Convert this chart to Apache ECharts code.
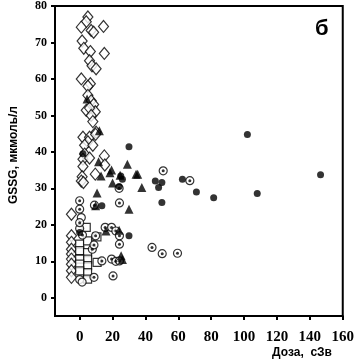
<!DOCTYPE html>
<html>
<head>
<meta charset="utf-8">
<script src="https://cdn.jsdelivr.net/npm/echarts@6/dist/echarts.min.js"></script>
<style>
  html, body { margin: 0; padding: 0; background: #fff; }
  #chart { width: 357px; height: 363px; }
</style>
</head>
<body>
<div id="chart"></div>
<script>
// тики осей
var xTicks = [0, 20, 40, 60, 80, 100, 120, 140, 160]
var yTicks = [0, 10, 20, 30, 40, 50, 60, 70, 80]

// открытые ромбы
var diamonds = [
  [5, 77], [4, 75.7], [1, 74.2], [7, 73.3], [8.5, 72.8], [14.5, 74.4],
  [1.5, 70.4], [2.5, 68.4], [6.5, 67.5], [15, 67], [6, 65], [7.5, 63.6], [10, 62.8],
  [1, 60], [6.5, 58.7], [5, 58], [5, 55.5], [7, 54], [8.5, 53], [4, 51.4], [9.5, 51],
  [6, 52], [7, 50], [8, 48.3], [10, 45.4], [2, 44], [6, 44], [9.7, 44.8], [5, 42.8],
  [3, 41.8], [8, 41.8], [3, 39.4], [15, 38.9], [2, 38], [6, 38.3], [15.3, 36.4],
  [2, 36], [9.5, 33.9], [1.5, 33.2], [1, 32], [2.3, 31.6],
  [-5, 22.9], [-5, 17], [-5, 15.2], [-5, 13.3], [-5, 12], [-5, 10.6], [-5, 9.2],
  [-5, 7.4], [-5, 5.6]
]

// залитые кружки
var dots = [
  [30, 41.4], [2, 39.5], [102, 44.8], [146.5, 33.7], [46, 32], [50, 31.6], [48, 30.2],
  [62.5, 32.5], [71, 29], [81.5, 27.4], [108, 28.6], [50, 26.1], [25, 33.4], [26, 32.5],
  [24, 30.5], [13.5, 25.2], [30, 17], [0, 17.9]
]

// залитые треугольники
var triangles = [
  [4.5, 54.5], [12, 45.8], [11.5, 37.3], [29, 36.6], [18.4, 34.3], [13, 33.4],
  [24.6, 33.6], [34.3, 33.9], [19.4, 35], [20, 31.5], [10.6, 28.7], [37.8, 30.2],
  [35.3, 33.9], [30, 24.3], [9.7, 25.2], [24, 18.5], [16, 18.3], [25.2, 11.5], [26, 10.5]
]

// открытые квадраты
var squares = [
  [4, 19.3], [0, 14.7], [4.8, 15.6], [0, 12.9], [4.8, 12.4], [4.8, 10.6], [4.8, 8.8],
  [4.8, 6.9], [4.8, 5.1], [0, 10.6], [0, 9.2], [0, 7.4], [10.6, 9.7], [10.5, 16.7]
]

// кружки с точкой
var ringDots = [
  [0, 26.6], [0, 24.3], [0, 20.6], [24.2, 26], [50.8, 34.8], [67, 32.1], [15.5, 19.3],
  [19.4, 19.3], [22, 18.3], [24.2, 17], [24.2, 14.7], [9.7, 17], [7.7, 13.3], [8.7, 14.5],
  [13.5, 10.1], [19.4, 10.6], [22, 10], [24.2, 10.1], [8.7, 5.6], [20.3, 6], [44, 13.8],
  [50.2, 12.1], [59.5, 12.2], [9, 25.4], [24, 30], [1.7, 17.2]
]

// открытые кружки
var rings = [
  [1, 22], [0, 19], [0, 5], [1.5, 4.3]
]

var chart = echarts.init(document.getElementById('chart'))

var openStyle = {
  color: '#fff',
  borderColor: '#000',
  borderWidth: 1.2,
}

chart.setOption({
  animation: false,
  grid: {
    left: 46,
    top: 5,
    right: 11,
    bottom: 47,
    containLabel: false,
    show: true,
    borderColor: '#000',
    borderWidth: 2,
  },
  xAxis: {
    type: 'value',
    min: -15,
    max: 160,
    splitLine: { show: false },
    axisLine: { onZero: false, lineStyle: { color: '#000', width: 2 } },
    axisTick: {
      customValues: xTicks,
      length: 4,
      lineStyle: { color: '#000', width: 2 },
    },
    axisLabel: {
      customValues: xTicks,
      margin: 14,
      color: '#000',
      fontFamily: 'Liberation Serif',
      fontWeight: 'bold',
      fontSize: 15,
    },
  },
  yAxis: {
    type: 'value',
    min: -5,
    max: 80,
    splitLine: { show: false },
    axisLine: { onZero: false, lineStyle: { color: '#000', width: 2 } },
    axisTick: {
      customValues: yTicks,
      length: 4,
      lineStyle: { color: '#000', width: 2 },
    },
    axisLabel: {
      customValues: yTicks,
      margin: 8,
      color: '#000',
      fontFamily: 'Liberation Serif',
      fontWeight: 'bold',
      fontSize: 12,
    },
    name: 'GSSG, мкмоль/л',
    nameLocation: 'middle',
    nameRotate: 90,
    nameGap: 35,
    nameTextStyle: {
      color: '#000',
      fontFamily: 'Liberation Sans',
      fontWeight: 'bold',
      fontSize: 12,
      padding: [0, 0, 0, 12],
    },
  },
  graphic: [
    {
      type: 'text',
      right: 25,
      top: 347,
      style: {
        text: 'Доза,  сЗв',
        fill: '#000',
        font: 'bold 12px "Liberation Sans"',
      },
    },
    {
      type: 'text',
      left: 315,
      top: 18,
      style: {
        text: 'б',
        fill: '#000',
        font: 'bold 22px "Liberation Sans"',
      },
    },
  ],
  series: [
    {
      type: 'scatter',
      symbol: 'diamond',
      symbolSize: [10, 12],
      itemStyle: openStyle,
      data: diamonds,
    },
    {
      type: 'scatter',
      symbol: 'rect',
      symbolSize: 8,
      itemStyle: openStyle,
      data: squares,
    },
    {
      type: 'scatter',
      symbol: 'circle',
      symbolSize: 8,
      itemStyle: openStyle,
      data: rings,
    },
    {
      type: 'scatter',
      symbol: 'circle',
      symbolSize: 8,
      itemStyle: openStyle,
      data: ringDots,
    },
    {
      type: 'scatter',
      symbol: 'circle',
      symbolSize: 3,
      itemStyle: { color: '#000' },
      data: ringDots,
    },
    {
      type: 'scatter',
      symbol: 'triangle',
      symbolSize: 9,
      itemStyle: { color: '#000' },
      data: triangles,
    },
    {
      type: 'scatter',
      symbol: 'circle',
      symbolSize: 7,
      itemStyle: { color: '#000' },
      data: dots,
    },
  ],
})
</script>
</body>
</html>
